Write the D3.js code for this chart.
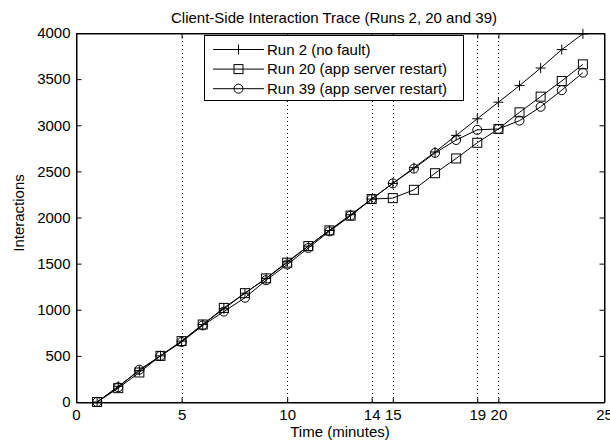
<!DOCTYPE html>
<html><head><meta charset="utf-8">
<script src="https://cdn.jsdelivr.net/npm/d3@7"></script>
<style>
body{margin:0;background:#fff;}
text{font-family:"Liberation Sans",Arial,sans-serif;}
</style></head>
<body><svg id="c" width="610" height="442"></svg>
<script>
const minutes = d3.range(1, 25);
const run2  = [0,170,340,500,660,840,1010,1180,1340,1520,1690,1860,2030,2200,2370,2540,2710,2890,3070,3250,3430,3620,3820,3990];
const run20 = [0,150,320,500,660,840,1020,1180,1340,1510,1690,1860,2020,2200,2210,2300,2480,2640,2810,2960,3140,3310,3480,3660];
const run39 = [0,160,350,500,650,830,980,1130,1320,1490,1670,1850,2020,2200,2370,2530,2700,2840,2950,2960,3050,3200,3380,3570];
const xTicks = [0,5,10,14,15,19,20,25];
const yTicks = [0,500,1000,1500,2000,2500,3000,3500,4000];
const faultLines = [5,10,14,15,19,20];
const seriesNames = ["Run 2 (no fault)","Run 20 (app server restart)","Run 39 (app server restart)"];
const seriesData = [run2, run20, run39];
const markers = ["plus","square","circle"];

const svg = d3.select("#c");
const L=76, R=604, T=33, B=402;
const x = d3.scaleLinear().domain([0,25]).range([L,R]);
const y = d3.scaleLinear().domain([0,4000]).range([B,T]);

// dotted vertical lines
svg.append("g").selectAll("line").data(faultLines).join("line")
  .attr("x1",d=>Math.round(x(d))+0.5).attr("x2",d=>Math.round(x(d))+0.5)
  .attr("y1",T).attr("y2",B)
  .attr("stroke","#000").attr("stroke-width",1).attr("stroke-dasharray","1,3");

// axes
const fs = "15px";
const xb = svg.append("g").attr("transform",`translate(0,${B+0.5})`)
  .call(d3.axisBottom(x).tickValues(xTicks).tickSizeInner(-5).tickSizeOuter(0).tickPadding(7).tickFormat(d3.format("d")));
const xt = svg.append("g").attr("transform",`translate(0,${T+0.5})`)
  .call(d3.axisTop(x).tickValues(xTicks).tickSizeInner(-5).tickSizeOuter(0).tickFormat(""));
const yl = svg.append("g").attr("transform",`translate(${L+0.5},0)`)
  .call(d3.axisLeft(y).tickValues(yTicks).tickSizeInner(-5).tickSizeOuter(0).tickPadding(6).tickFormat(d3.format("d")));
const yr = svg.append("g").attr("transform",`translate(${R+0.5},0)`)
  .call(d3.axisRight(y).tickValues(yTicks).tickSizeInner(-5).tickSizeOuter(0).tickFormat(""));
[xb,xt,yl,yr].forEach(g=>{
  g.selectAll("path").attr("stroke","#000");
  g.selectAll("line").attr("stroke","#000");
  g.selectAll("text").attr("font-size",fs).attr("fill","#000").attr("font-family","Liberation Sans, Arial, sans-serif");
});
xb.selectAll("text").attr("dy","0.71em");

// lines and markers
const line = d3.line().x((d,i)=>x(minutes[i])).y(d=>y(d));
function drawMarker(g, type, cx, cy){
  if(type==="plus"){
    g.append("path").attr("d",`M${cx-5},${cy}H${cx+5}M${cx},${cy-5}V${cy+5}`).attr("stroke","#000").attr("fill","none");
  } else if(type==="square"){
    g.append("rect").attr("x",cx-4.5).attr("y",cy-4.5).attr("width",9).attr("height",9).attr("fill","none").attr("stroke","#000");
  } else {
    g.append("circle").attr("cx",cx).attr("cy",cy).attr("r",4.5).attr("fill","none").attr("stroke","#000");
  }
}
seriesData.forEach((s,k)=>{
  svg.append("path").datum(s).attr("d",line).attr("fill","none").attr("stroke","#000").attr("stroke-width",1);
  const g = svg.append("g");
  s.forEach((v,i)=>drawMarker(g, markers[k], x(minutes[i]), y(v)));
});

// box
svg.append("rect").attr("x",L+0.5).attr("y",T+0.5).attr("width",R-L).attr("height",B-T).attr("fill","none").attr("stroke","#000");

// legend
const lg = svg.append("g");
lg.append("rect").attr("x",204.5).attr("y",35.5).attr("width",259).attr("height",65).attr("fill","#fff").attr("stroke","#000");
seriesNames.forEach((n,k)=>{
  const cy = 49 + k*19.6;
  lg.append("line").attr("x1",213).attr("x2",264).attr("y1",cy+0.5).attr("y2",cy+0.5).attr("stroke","#000");
  drawMarker(lg, markers[k], 238.5, cy+0.5);
  lg.append("text").attr("x",267).attr("y",cy+5.5).attr("font-size",fs).text(n);
});

// titles
svg.append("text").attr("x",334).attr("y",22.5).attr("text-anchor","middle").attr("font-size",fs).text("Client-Side Interaction Trace (Runs 2, 20 and 39)");
svg.append("text").attr("x",340).attr("y",437).attr("text-anchor","middle").attr("font-size",fs).text("Time (minutes)");
svg.append("text").attr("transform","translate(24,213) rotate(-90)").attr("text-anchor","middle").attr("font-size",fs).text("Interactions");
</script></body></html>
